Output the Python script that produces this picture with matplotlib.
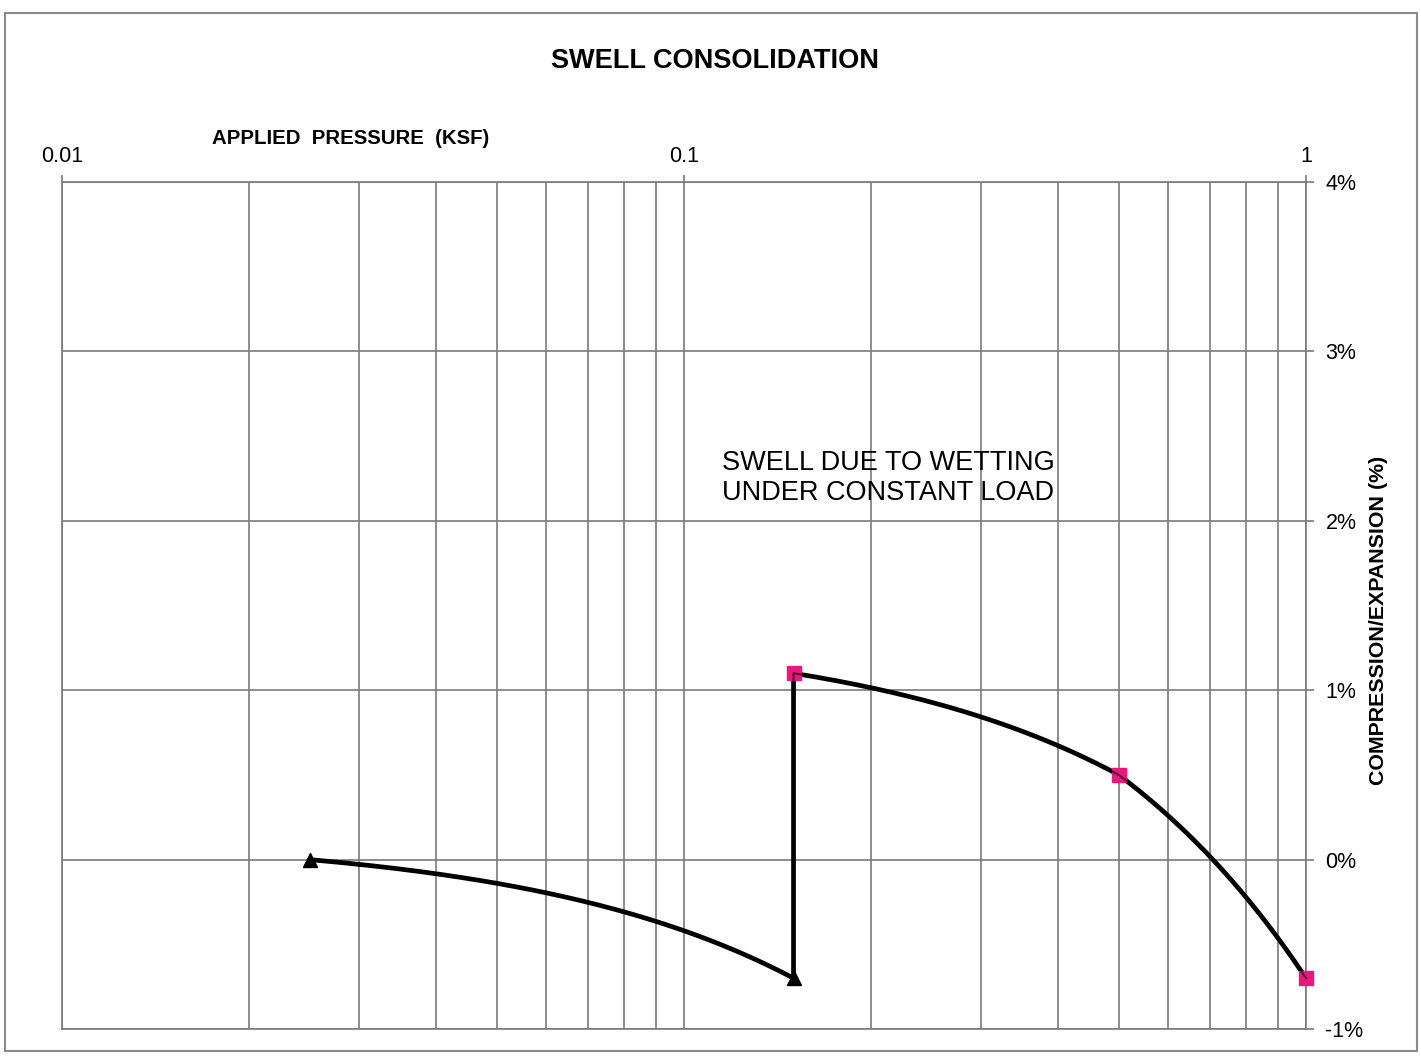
import numpy as np
import matplotlib
matplotlib.use("Agg")
import matplotlib.pyplot as plt
from matplotlib.path import Path
from matplotlib.patches import Rectangle
from matplotlib.ticker import FixedLocator, FixedFormatter, LogLocator, NullFormatter

# ---- data ----
pressure_loading = [0.025, 0.15]          # ksf, before wetting (triangles)
strain_loading = [0.0, -0.7]              # %
pressure_wetted = [0.15, 0.5, 1.0]        # ksf, after wetting (squares)
strain_wetted = [1.1, 0.5, -0.7]          # %
x_ticks = [0.01, 0.1, 1]
x_tick_labels = ["0.01", "0.1", "1"]
y_ticks = [-1, 0, 1, 2, 3, 4]
y_tick_labels = ["-1%", "0%", "1%", "2%", "3%", "4%"]

plt.rcParams['font.family'] = ['Liberation Sans', 'DejaVu Sans']

fig = plt.figure(figsize=(14.21, 10.57), dpi=100)
ax = fig.add_axes([62/1421, 1 - 1029/1057, (1306-62)/1421, (1029-182)/1057])

ax.set_xscale('log')
ax.set_xlim(0.01, 1)
ax.set_ylim(-1, 4)

grid_c = '#7a7a7a'
ax.xaxis.set_major_locator(FixedLocator(x_ticks))
ax.xaxis.set_major_formatter(FixedFormatter(x_tick_labels))
ax.xaxis.set_minor_locator(LogLocator(base=10, subs=np.arange(2, 10)))
ax.xaxis.set_minor_formatter(NullFormatter())
ax.xaxis.tick_top()
ax.tick_params(axis='x', which='major', direction='out', length=5, width=1.2,
               color=grid_c, labelsize=15.5, pad=6)
ax.tick_params(axis='x', which='minor', length=0)

ax.yaxis.set_major_locator(FixedLocator(y_ticks))
ax.yaxis.set_major_formatter(FixedFormatter(y_tick_labels))
ax.yaxis.tick_right()
ax.tick_params(axis='y', which='major', direction='out', length=6, width=1.2,
               color=grid_c, labelsize=15.5, pad=8)

ax.grid(True, which='both', axis='x', color=grid_c, linewidth=1.2)
ax.grid(True, which='major', axis='y', color=grid_c, linewidth=1.2)
for s in ax.spines.values():
    s.set_color(grid_c)
    s.set_linewidth(1.2)

# curve: straight segments in (linear) data space, rendered on the log axis
xs = pressure_loading + pressure_wetted
ys = strain_loading + strain_wetted
path = Path(np.column_stack([xs, ys])).interpolated(80)
ax.plot(path.vertices[:, 0], path.vertices[:, 1], color='black', lw=3.4,
        solid_capstyle='round', zorder=3, clip_on=False)

ax.plot(pressure_loading, strain_loading, linestyle='none', marker='^',
        color='black', markersize=10, zorder=4, clip_on=False)
ax.plot(pressure_wetted, strain_wetted, linestyle='none', marker='s',
        markerfacecolor='#e8187c', markeredgecolor='#e8187c', markersize=10,
        zorder=4, clip_on=False)
ax.plot(path.vertices[:, 0], path.vertices[:, 1], color='black', lw=1.5,
        zorder=5, clip_on=False, alpha=0.6)

ax.text(0.115, 2.25, "SWELL DUE TO WETTING\nUNDER CONSTANT LOAD", fontsize=19.5,
        ha='left', va='center', linespacing=1.2, zorder=6)

fig.text(715/1421, 1 - 61/1057, "SWELL CONSOLIDATION", fontsize=19.5,
         fontweight='bold', ha='center', va='center')
fig.text(351/1421, 1 - 139/1057, "APPLIED  PRESSURE  (KSF)", fontsize=14.7,
         fontweight='bold', ha='center', va='center')
fig.text(1378/1421, 1 - 620/1057, "COMPRESSION/EXPANSION (%)", fontsize=15.4,
         fontweight='bold', ha='center', va='center', rotation=90)

fig.patches.append(Rectangle((5/1421, 1 - 1051/1057), 1412/1421, (1051-13)/1057,
                             transform=fig.transFigure, fill=False,
                             edgecolor='#8a8a8a', linewidth=1.5))

fig.savefig("out.png", dpi=100)
